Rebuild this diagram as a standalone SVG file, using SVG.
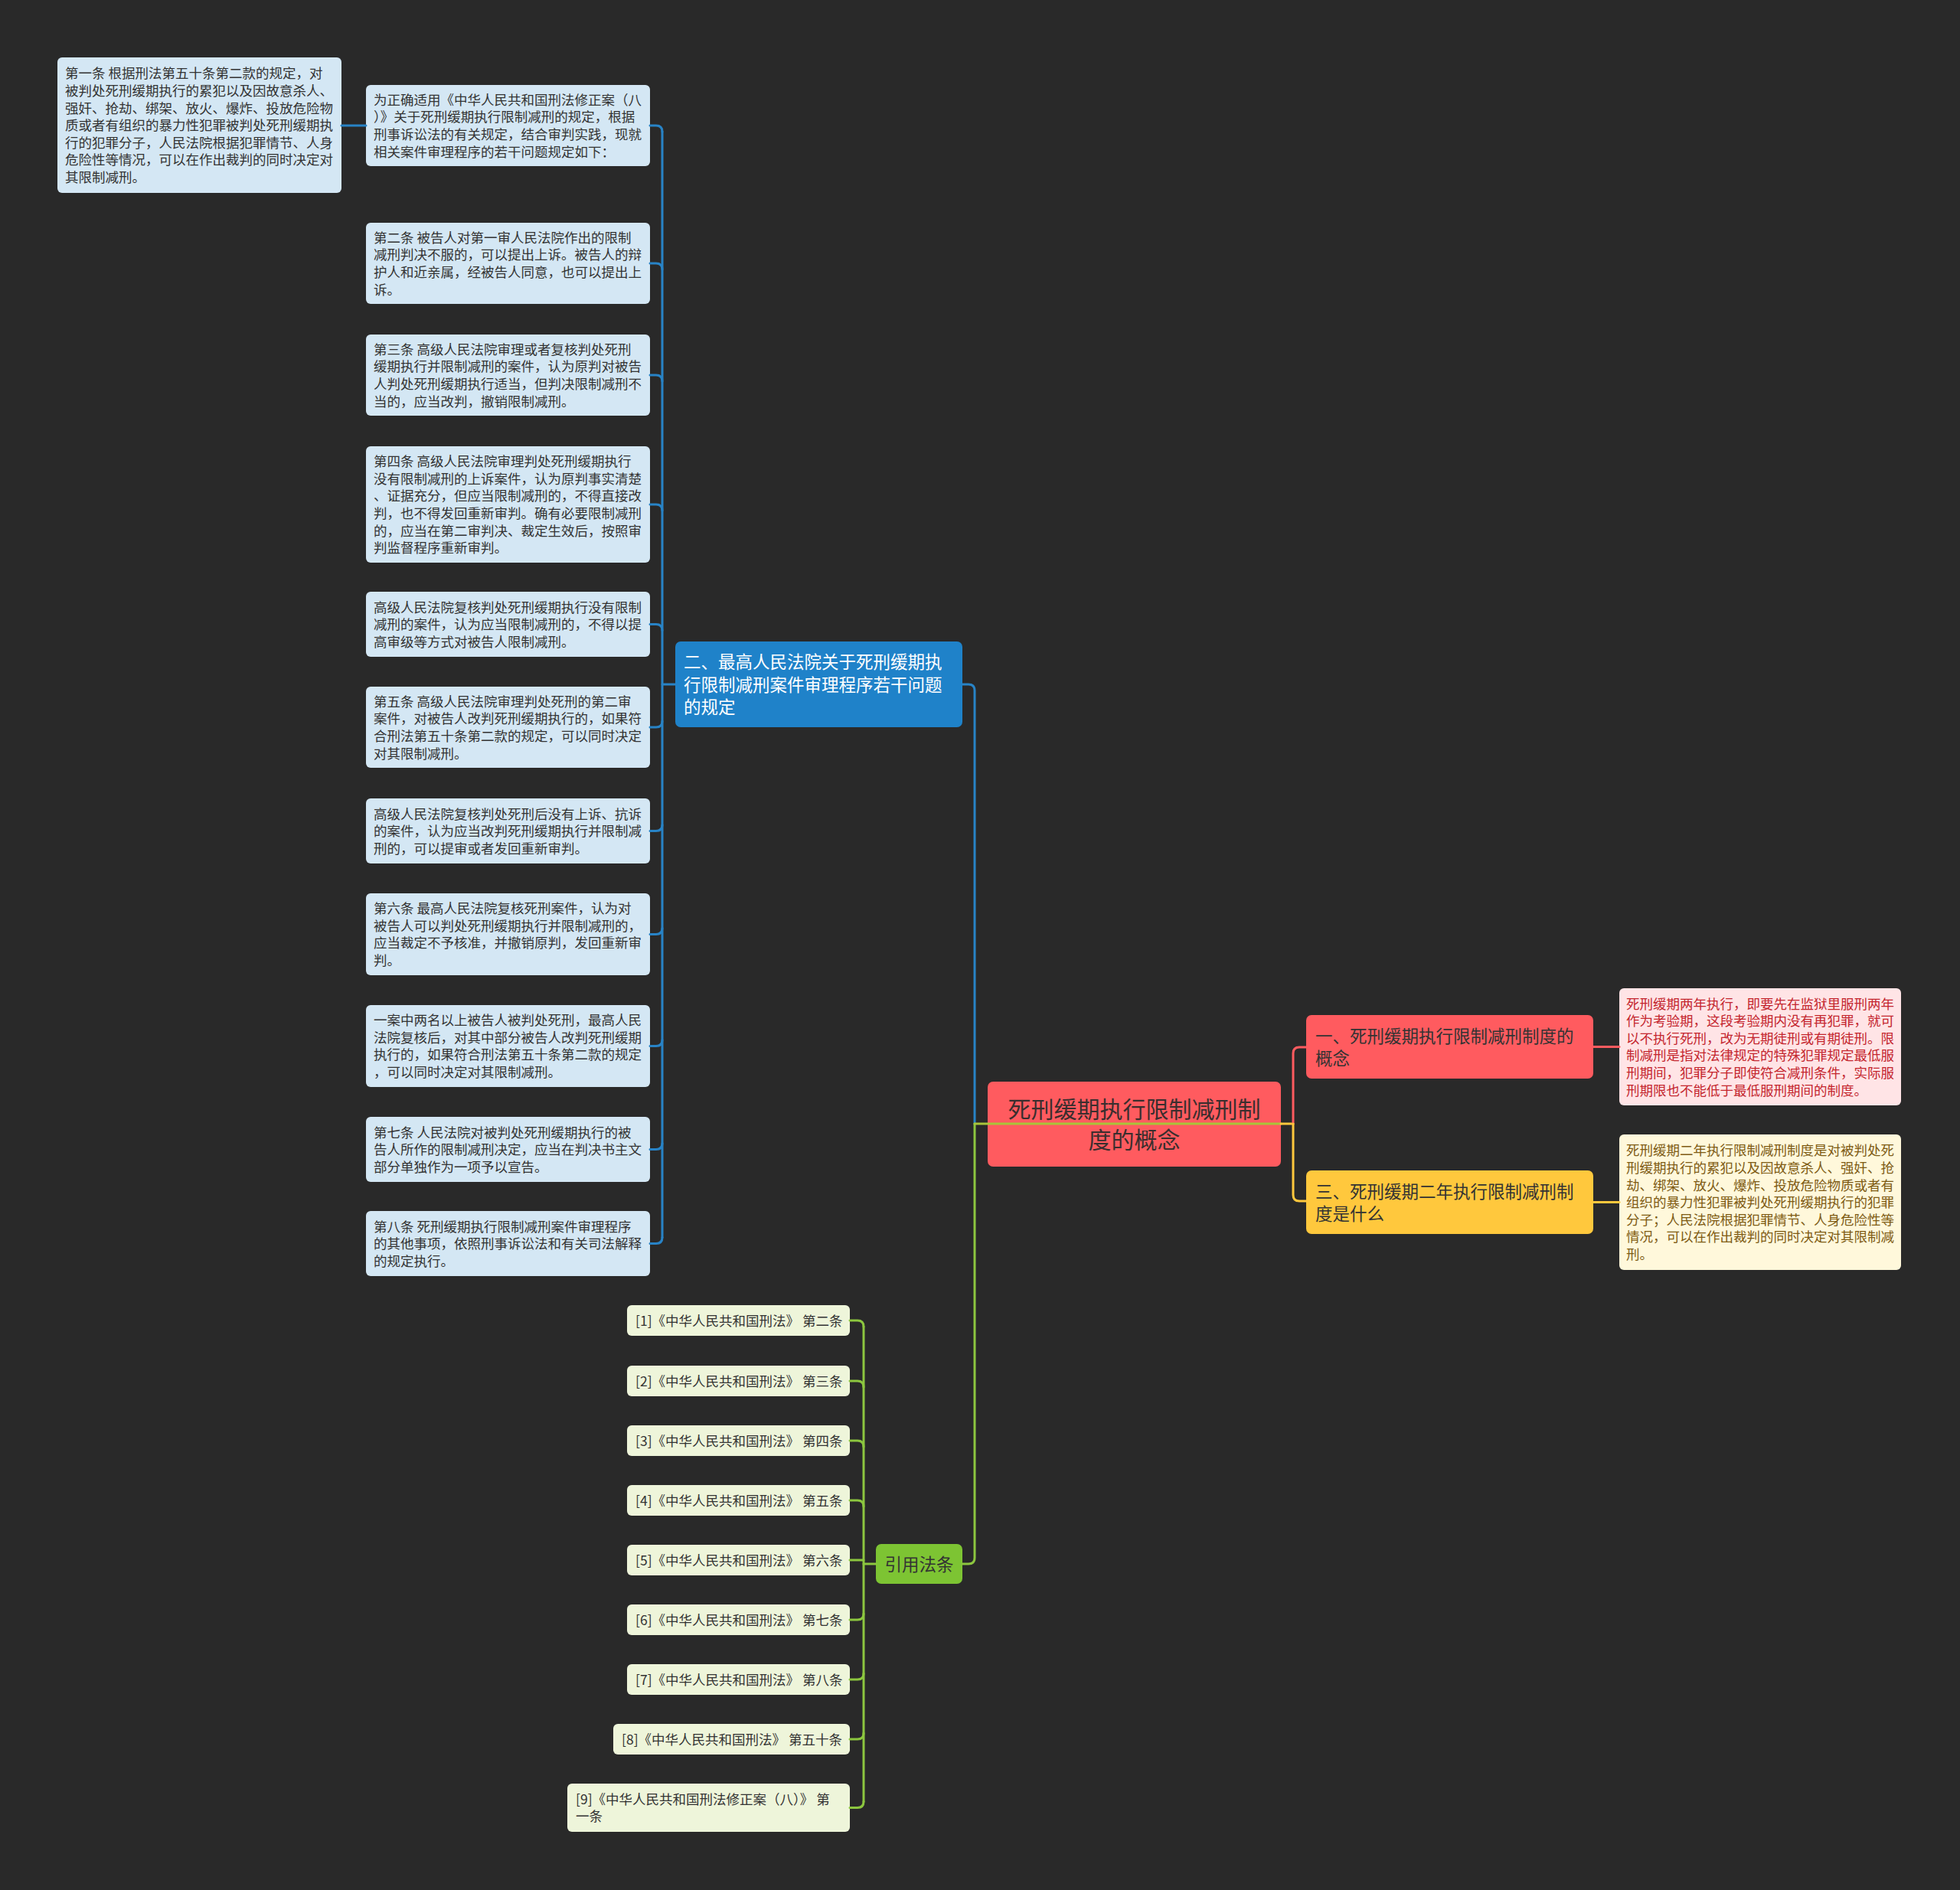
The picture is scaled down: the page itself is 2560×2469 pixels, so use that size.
<svg xmlns="http://www.w3.org/2000/svg" width="2560" height="2469" viewBox="0 0 2560 2469">
<style>
text{font-family:"Noto Sans CJK SC","Noto Sans",sans-serif}
.bl{fill:#D4E7F4}
.bt{font-size:17.5px;fill:#333333}
.rt{font-size:17.5px;fill:#333333}
.pk{fill:#FFE4E6}
.pkt{font-size:17.5px;fill:#C4262E}
.cr{fill:#FFF8DB}
.crt{font-size:17.5px;fill:#7E5B13}
.rf{fill:#EEF5DA}
.mt{font-size:22.5px;fill:#333333}
.c{fill:none;stroke-width:3;stroke-linecap:round}
.cb{stroke:#2883C6}.cg{stroke:#8CC63F}.cy{stroke:#FFC83D}.cred{stroke:#FF5B5F}
</style>
<rect width="2560" height="2469" fill="#292929"/>

<g id="n-top-left">
<rect class="bl" x="75" y="75" width="371" height="177" rx="6"/>
<text class="bt"><tspan x="85" y="102.3">第一条 根据刑法第五十条第二款的规定，对</tspan><tspan x="85" y="124.9">被判处死刑缓期执行的累犯以及因故意杀人、</tspan><tspan x="85" y="147.5">强奸、抢劫、绑架、放火、爆炸、投放危险物</tspan><tspan x="85" y="170.1">质或者有组织的暴力性犯罪被判处死刑缓期执</tspan><tspan x="85" y="192.7">行的犯罪分子，人民法院根据犯罪情节、人身</tspan><tspan x="85" y="215.3">危险性等情况，可以在作出裁判的同时决定对</tspan><tspan x="85" y="237.9">其限制减刑。</tspan></text>
</g>

<g id="n-l1">
<rect class="bl" x="478" y="111" width="371" height="106" rx="6"/>
<text class="bt"><tspan x="488" y="136.7">为正确适用《中华人民共和国刑法修正案（八</tspan><tspan x="488" y="159.3">）》关于死刑缓期执行限制减刑的规定，根据</tspan><tspan x="488" y="181.9">刑事诉讼法的有关规定，结合审判实践，现就</tspan><tspan x="488" y="204.5">相关案件审理程序的若干问题规定如下：</tspan></text>
</g>
<g id="n-l2">
<rect class="bl" x="478" y="291" width="371" height="106" rx="6"/>
<text class="bt"><tspan x="488" y="316.7">第二条 被告人对第一审人民法院作出的限制</tspan><tspan x="488" y="339.3">减刑判决不服的，可以提出上诉。被告人的辩</tspan><tspan x="488" y="361.9">护人和近亲属，经被告人同意，也可以提出上</tspan><tspan x="488" y="384.5">诉。</tspan></text>
</g>
<g id="n-l3">
<rect class="bl" x="478" y="437" width="371" height="106" rx="6"/>
<text class="bt"><tspan x="488" y="462.7">第三条 高级人民法院审理或者复核判处死刑</tspan><tspan x="488" y="485.3">缓期执行并限制减刑的案件，认为原判对被告</tspan><tspan x="488" y="507.9">人判处死刑缓期执行适当，但判决限制减刑不</tspan><tspan x="488" y="530.5">当的，应当改判，撤销限制减刑。</tspan></text>
</g>
<g id="n-l4">
<rect class="bl" x="478" y="583" width="371" height="152" rx="6"/>
<text class="bt"><tspan x="488" y="609.1">第四条 高级人民法院审理判处死刑缓期执行</tspan><tspan x="488" y="631.7">没有限制减刑的上诉案件，认为原判事实清楚</tspan><tspan x="488" y="654.3">、证据充分，但应当限制减刑的，不得直接改</tspan><tspan x="488" y="676.9">判，也不得发回重新审判。确有必要限制减刑</tspan><tspan x="488" y="699.5">的，应当在第二审判决、裁定生效后，按照审</tspan><tspan x="488" y="722.1">判监督程序重新审判。</tspan></text>
</g>
<g id="n-l5">
<rect class="bl" x="478" y="773" width="371" height="85" rx="6"/>
<text class="bt"><tspan x="488" y="799.5">高级人民法院复核判处死刑缓期执行没有限制</tspan><tspan x="488" y="822.1">减刑的案件，认为应当限制减刑的，不得以提</tspan><tspan x="488" y="844.7">高审级等方式对被告人限制减刑。</tspan></text>
</g>
<g id="n-l6">
<rect class="bl" x="478" y="897" width="371" height="106" rx="6"/>
<text class="bt"><tspan x="488" y="922.7">第五条 高级人民法院审理判处死刑的第二审</tspan><tspan x="488" y="945.3">案件，对被告人改判死刑缓期执行的，如果符</tspan><tspan x="488" y="967.9">合刑法第五十条第二款的规定，可以同时决定</tspan><tspan x="488" y="990.5">对其限制减刑。</tspan></text>
</g>
<g id="n-l7">
<rect class="bl" x="478" y="1043" width="371" height="85" rx="6"/>
<text class="bt"><tspan x="488" y="1069.5">高级人民法院复核判处死刑后没有上诉、抗诉</tspan><tspan x="488" y="1092.1">的案件，认为应当改判死刑缓期执行并限制减</tspan><tspan x="488" y="1114.7">刑的，可以提审或者发回重新审判。</tspan></text>
</g>
<g id="n-l8">
<rect class="bl" x="478" y="1167" width="371" height="107" rx="6"/>
<text class="bt"><tspan x="488" y="1193.2">第六条 最高人民法院复核死刑案件，认为对</tspan><tspan x="488" y="1215.8">被告人可以判处死刑缓期执行并限制减刑的，</tspan><tspan x="488" y="1238.4">应当裁定不予核准，并撤销原判，发回重新审</tspan><tspan x="488" y="1261">判。</tspan></text>
</g>
<g id="n-l9">
<rect class="bl" x="478" y="1313" width="371" height="107" rx="6"/>
<text class="bt"><tspan x="488" y="1339.2">一案中两名以上被告人被判处死刑，最高人民</tspan><tspan x="488" y="1361.8">法院复核后，对其中部分被告人改判死刑缓期</tspan><tspan x="488" y="1384.4">执行的，如果符合刑法第五十条第二款的规定</tspan><tspan x="488" y="1407">，可以同时决定对其限制减刑。</tspan></text>
</g>
<g id="n-l10">
<rect class="bl" x="478" y="1459" width="371" height="85" rx="6"/>
<text class="bt"><tspan x="488" y="1485.5">第七条 人民法院对被判处死刑缓期执行的被</tspan><tspan x="488" y="1508.1">告人所作的限制减刑决定，应当在判决书主文</tspan><tspan x="488" y="1530.7">部分单独作为一项予以宣告。</tspan></text>
</g>
<g id="n-l11">
<rect class="bl" x="478" y="1582" width="371" height="85" rx="6"/>
<text class="bt"><tspan x="488" y="1608.5">第八条 死刑缓期执行限制减刑案件审理程序</tspan><tspan x="488" y="1631.1">的其他事项，依照刑事诉讼法和有关司法解释</tspan><tspan x="488" y="1653.7">的规定执行。</tspan></text>
</g>

<g id="n-branch2">
<rect x="882" y="838" width="375" height="112" rx="7" fill="#1F82C9"/>
<text font-size="22.5" fill="#FFFFFF"><tspan x="893" y="873">二、最高人民法院关于死刑缓期执</tspan><tspan x="893" y="902.6">行限制减刑案件审理程序若干问题</tspan><tspan x="893" y="932">的规定</tspan></text>
</g>

<g id="n-root">
<rect x="1290" y="1413" width="383" height="111" rx="7" fill="#FF5B5F"/>
<text font-size="30" fill="#3A2E2E" text-anchor="middle"><tspan x="1481.5" y="1460">死刑缓期执行限制减刑制</tspan><tspan x="1481.5" y="1500">度的概念</tspan></text>
</g>

<g id="n-branch1">
<rect x="1706" y="1326" width="375" height="83" rx="7" fill="#FF5B5F"/>
<text class="mt"><tspan x="1718" y="1361.6">一、死刑缓期执行限制减刑制度的</tspan><tspan x="1718" y="1390.6">概念</tspan></text>
</g>
<g id="n-branch3">
<rect x="1706" y="1529" width="375" height="83" rx="7" fill="#FFC83D"/>
<text class="mt"><tspan x="1718" y="1564.6">三、死刑缓期二年执行限制减刑制</tspan><tspan x="1718" y="1593.6">度是什么</tspan></text>
</g>
<g id="n-leaf1">
<rect class="pk" x="2115" y="1291" width="368" height="153" rx="6"/>
<text class="pkt"><tspan x="2124" y="1317.6">死刑缓期两年执行，即要先在监狱里服刑两年</tspan><tspan x="2124" y="1340.2">作为考验期，这段考验期内没有再犯罪，就可</tspan><tspan x="2124" y="1362.8">以不执行死刑，改为无期徒刑或有期徒刑。限</tspan><tspan x="2124" y="1385.4">制减刑是指对法律规定的特殊犯罪规定最低服</tspan><tspan x="2124" y="1408">刑期间，犯罪分子即使符合减刑条件，实际服</tspan><tspan x="2124" y="1430.6">刑期限也不能低于最低服刑期间的制度。</tspan></text>
</g>
<g id="n-leaf3">
<rect class="cr" x="2115" y="1482" width="368" height="177" rx="6"/>
<text class="crt"><tspan x="2124" y="1509.3">死刑缓期二年执行限制减刑制度是对被判处死</tspan><tspan x="2124" y="1531.9">刑缓期执行的累犯以及因故意杀人、强奸、抢</tspan><tspan x="2124" y="1554.5">劫、绑架、放火、爆炸、投放危险物质或者有</tspan><tspan x="2124" y="1577.1">组织的暴力性犯罪被判处死刑缓期执行的犯罪</tspan><tspan x="2124" y="1599.7">分子；人民法院根据犯罪情节、人身危险性等</tspan><tspan x="2124" y="1622.3">情况，可以在作出裁判的同时决定对其限制减</tspan><tspan x="2124" y="1644.9">刑。</tspan></text>
</g>

<g id="n-cite">
<rect x="1144" y="2017" width="113" height="52" rx="7" fill="#7DC433"/>
<text class="mt" x="1200.5" y="2051.6" text-anchor="middle">引用法条</text>
</g>
<g id="n-r1"><rect class="rf" x="819" y="1705" width="291" height="40" rx="6"/><text class="rt" x="830" y="1731.6">[1]《中华人民共和国刑法》 第二条</text></g>
<g id="n-r2"><rect class="rf" x="819" y="1784" width="291" height="40" rx="6"/><text class="rt" x="830" y="1810.6">[2]《中华人民共和国刑法》 第三条</text></g>
<g id="n-r3"><rect class="rf" x="819" y="1862" width="291" height="40" rx="6"/><text class="rt" x="830" y="1888.6">[3]《中华人民共和国刑法》 第四条</text></g>
<g id="n-r4"><rect class="rf" x="819" y="1940" width="291" height="40" rx="6"/><text class="rt" x="830" y="1966.6">[4]《中华人民共和国刑法》 第五条</text></g>
<g id="n-r5"><rect class="rf" x="819" y="2018" width="291" height="40" rx="6"/><text class="rt" x="830" y="2044.6">[5]《中华人民共和国刑法》 第六条</text></g>
<g id="n-r6"><rect class="rf" x="819" y="2096" width="291" height="40" rx="6"/><text class="rt" x="830" y="2122.6">[6]《中华人民共和国刑法》 第七条</text></g>
<g id="n-r7"><rect class="rf" x="819" y="2174" width="291" height="40" rx="6"/><text class="rt" x="830" y="2200.6">[7]《中华人民共和国刑法》 第八条</text></g>
<g id="n-r8"><rect class="rf" x="801" y="2252" width="309" height="40" rx="6"/><text class="rt" x="812" y="2278.6">[8]《中华人民共和国刑法》 第五十条</text></g>
<g id="n-r9"><rect class="rf" x="741" y="2330" width="369" height="63" rx="6"/><text class="rt"><tspan x="752" y="2356.8">[9]《中华人民共和国刑法修正案（八）》 第</tspan><tspan x="752" y="2379.4">一条</tspan></text></g>

<g id="connectors">
<path class="c cb" d="M446 164H478"/>
<path class="c cb" d="M865 172V1616.5"/>
<path class="c cb" d="M865 894H882"/>
<path class="c cb" d="M849 164H857Q865 164 865 172"/>
<path class="c cb" d="M849 344H857Q865 344 865 352"/>
<path class="c cb" d="M849 490H857Q865 490 865 498"/>
<path class="c cb" d="M849 659H857Q865 659 865 667"/>
<path class="c cb" d="M849 815.5H857Q865 815.5 865 823.5"/>
<path class="c cb" d="M849 950H857Q865 950 865 942"/>
<path class="c cb" d="M849 1085.5H857Q865 1085.5 865 1077.5"/>
<path class="c cb" d="M849 1220.5H857Q865 1220.5 865 1212.5"/>
<path class="c cb" d="M849 1366.5H857Q865 1366.5 865 1358.5"/>
<path class="c cb" d="M849 1501.5H857Q865 1501.5 865 1493.5"/>
<path class="c cb" d="M849 1624.5H857Q865 1624.5 865 1616.5"/>
<path class="c cb" d="M1273 1468V902Q1273 894 1265 894H1257"/>
<path class="c cg" d="M1273 1468V2035Q1273 2043 1265 2043H1257"/>
<path class="c" stroke="#A8C43A" d="M1273 1468H1673"/>
<path class="c cy" d="M1673 1468H1689"/>
<path class="c cred" d="M1689 1468V1376Q1689 1368 1697 1368H1706"/>
<path class="c cy" d="M1689 1468V1561Q1689 1569 1697 1569H1706"/>
<path class="c cred" d="M2081 1367.5H2115"/>
<path class="c cy" d="M2081 1570.5H2115"/>
<path class="c cg" d="M1128 1733V2353.5"/>
<path class="c cg" d="M1128 2043H1144"/>
<path class="c cg" d="M1110 1725H1120Q1128 1725 1128 1733"/>
<path class="c cg" d="M1110 1804H1120Q1128 1804 1128 1812"/>
<path class="c cg" d="M1110 1882H1120Q1128 1882 1128 1890"/>
<path class="c cg" d="M1110 1960H1120Q1128 1960 1128 1968"/>
<path class="c cg" d="M1110 2038H1128"/>
<path class="c cg" d="M1110 2116H1120Q1128 2116 1128 2108"/>
<path class="c cg" d="M1110 2194H1120Q1128 2194 1128 2186"/>
<path class="c cg" d="M1110 2272H1120Q1128 2272 1128 2264"/>
<path class="c cg" d="M1110 2361.5H1120Q1128 2361.5 1128 2353.5"/>
</g>
</svg>
